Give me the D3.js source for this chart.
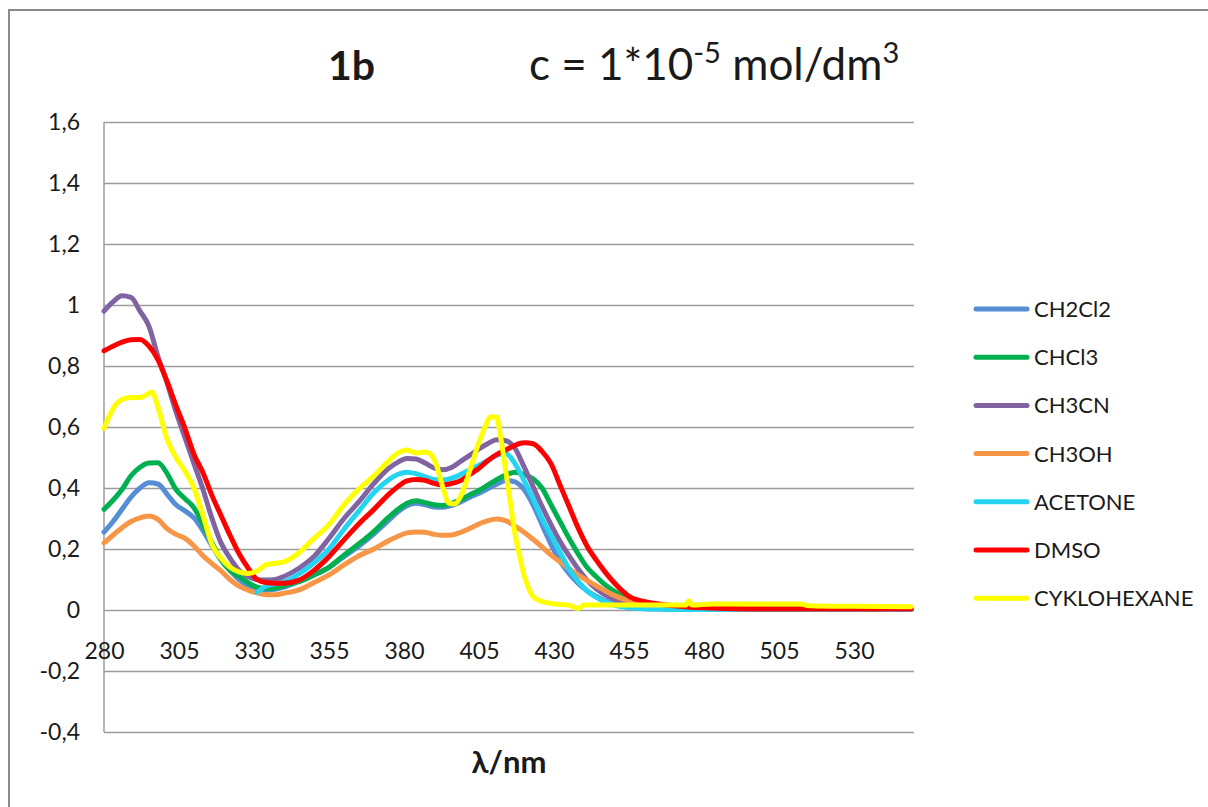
<!DOCTYPE html>
<html><head><meta charset="utf-8">
<script src="https://cdn.jsdelivr.net/npm/d3@7"></script>
<style>
html,body{margin:0;padding:0;background:#fff;overflow:hidden}
svg{display:block}
text{font-family:Lato,'Open Sans','Noto Sans',sans-serif;fill:#1a1a1a}
</style></head><body>
<svg id="chart" width="1208" height="807"></svg>
<script>
// ---- data ----
const wavelengths = [280,283,286,289,292,295,298,301,304,307,310,313,316,319,322,325,328,331,334,337,340,
  345,350,355,360,365,370,375,
  378,381,384,387,390,393,396,399,402,405,408,411,414,417,420,423,426,429,432,435,438,441,444,447,450,
  455,460,465,470,
  480,490,500,510,520,530,540,549];

const ch2cl2 = [0.255,0.29,0.33,0.37,0.4,0.417,0.413,0.38,0.345,0.325,0.302,0.26,0.21,0.165,0.13,0.1,0.08,0.068,0.065,0.068,0.075,
  0.095,0.115,0.14,0.175,0.21,0.25,0.295,
  0.322,0.342,0.35,0.345,0.338,0.337,0.343,0.355,0.37,0.383,0.398,0.413,0.425,0.42,0.395,0.345,0.28,0.215,0.16,0.12,0.088,0.063,0.045,0.03,0.02,
  0.01,0.005,0.004,0.003,
  0.003,0.003,0.003,0.003,0.003,0.003,0.003,0.003];

const chcl3 = [0.33,0.36,0.395,0.44,0.468,0.482,0.483,0.448,0.395,0.365,0.335,0.28,0.22,0.165,0.13,0.11,0.09,0.075,0.07,0.072,0.08,
  0.093,0.115,0.14,0.18,0.217,0.258,0.305,
  0.33,0.35,0.358,0.352,0.345,0.343,0.35,0.362,0.378,0.392,0.41,0.428,0.443,0.452,0.445,0.43,0.4,0.345,0.29,0.235,0.185,0.14,0.11,0.083,0.062,
  0.035,0.02,0.012,0.007,
  0.004,0.003,0.003,0.003,0.003,0.003,0.003,0.003];

const ch3cn = [0.98,1.01,1.03,1.025,0.98,0.93,0.83,0.745,0.65,0.565,0.48,0.395,0.3,0.22,0.17,0.13,0.11,0.1,0.098,0.1,0.11,
  0.137,0.175,0.235,0.3,0.355,0.415,0.465,
  0.485,0.497,0.495,0.482,0.466,0.46,0.468,0.488,0.508,0.528,0.546,0.558,0.555,0.53,0.47,0.405,0.34,0.28,0.225,0.178,0.135,0.098,0.07,0.05,0.035,
  0.018,0.009,0.006,0.004,
  0.003,0.003,0.003,0.003,0.003,0.003,0.003,0.003];

const ch3oh = [0.22,0.245,0.27,0.29,0.302,0.308,0.297,0.267,0.248,0.235,0.21,0.178,0.152,0.128,0.1,0.078,0.065,0.056,0.05,0.05,0.055,
  0.066,0.09,0.115,0.148,0.178,0.2,0.228,
  0.242,0.253,0.256,0.255,0.248,0.245,0.246,0.255,0.268,0.282,0.293,0.298,0.292,0.275,0.255,0.232,0.207,0.18,0.158,0.135,0.115,0.097,0.08,0.063,0.048,
  0.03,0.018,0.01,0.006,
  0.004,0.003,0.003,0.003,0.003,0.003,0.003,0.003];

const acetone = [null,null,null,null,null,null,null,null,null,null,null,null,null,null,null,null,null,0.058,0.078,0.086,0.092,
  0.118,0.155,0.2,0.265,0.325,0.385,0.428,
  0.445,0.452,0.447,0.437,0.428,0.426,0.432,0.445,0.46,0.475,0.49,0.508,0.512,0.48,0.425,0.365,0.3,0.245,0.19,0.135,0.095,0.063,0.042,0.027,0.016,
  0.008,0.004,0.003,0.002,
  0.002,0.002,0.002,0.002,0.002,0.002,0.002,0.002];

const dmso = [0.85,0.865,0.878,0.886,0.887,0.865,0.82,0.75,0.67,0.595,0.51,0.45,0.375,0.31,0.245,0.185,0.138,0.1,0.09,0.088,0.088,
  0.098,0.13,0.175,0.23,0.283,0.33,0.38,
  0.405,0.423,0.428,0.425,0.415,0.41,0.415,0.425,0.445,0.465,0.49,0.51,0.525,0.54,0.548,0.545,0.52,0.48,0.41,0.34,0.27,0.21,0.165,0.125,0.09,
  0.045,0.028,0.02,0.014,
  0.007,0.004,0.003,0.003,0.003,0.003,0.003,0.003];

const cykloWavelengths = [280,283,286,289,292,295,296,298,301,304,307,310,313,316,319,322,325,328,331,334,337,340,
  345,350,355,360,365,370,375,378,381,384,387,389,391,393,395,397,399,402,405,407,409,411,412,414,415.5,417,418.7,
  420,421,423,426,430,435,438,440,450,460,470,474,475,476,483,500,512,515,530,549];
const cyklohexane = [0.595,0.66,0.69,0.697,0.697,0.71,0.715,0.665,0.56,0.5,0.455,0.4,0.31,0.215,0.17,0.14,0.125,0.12,0.128,0.148,0.153,0.158,
  0.188,0.235,0.28,0.345,0.397,0.44,0.49,0.515,0.525,0.515,0.518,0.51,0.47,0.4,0.35,0.348,0.375,0.46,0.55,0.6,0.634,0.632,0.58,0.45,0.35,0.25,0.17,
  0.115,0.085,0.045,0.028,0.02,0.016,0.005,0.016,0.016,0.016,0.016,0.016,0.03,0.016,0.02,0.02,0.02,0.014,0.012,0.011];

const seriesNames = ["CH2Cl2","CHCl3","CH3CN","CH3OH","ACETONE","DMSO","CYKLOHEXANE"];
const seriesColors = ["#558ed5","#00b050","#8064a2","#f79646","#24d4f0","#ff0000","#ffff00"];
const xTicks = [280,305,330,355,380,405,430,455,480,505,530];
const yTicks = [-0.4,-0.2,0,0.2,0.4,0.6,0.8,1,1.2,1.4,1.6];

// ---- layout ----
const svg = d3.select("#chart");
const P = {left:104, right:914, top:122, bottom:732};
const x = d3.scaleLinear().domain([280,550]).range([P.left,P.right]);
const y = d3.scaleLinear().domain([-0.4,1.6]).range([P.bottom,P.top]);
const locale = d3.formatLocale({decimal:",", thousands:" ", grouping:[3], currency:["",""], minus:"-"});
const fmt = locale.format("~g");

// outer frame
svg.append("rect").attr("x",9).attr("y",10).attr("width",1240).attr("height",840)
  .attr("fill","none").attr("stroke","#8a8a8a").attr("stroke-width",2);

// y axis with gridlines
const gy = svg.append("g").attr("transform",`translate(${P.left},0)`)
  .call(d3.axisLeft(y).tickValues(yTicks).tickSize(-(P.right-P.left)).tickPadding(24).tickFormat(fmt));
gy.select(".domain").remove();
gy.selectAll(".tick line").attr("stroke","#9c9c9c").attr("stroke-width",1.5);
gy.selectAll(".tick text").attr("font-size",23).attr("fill","#1a1a1a").style("font-family","Lato,'Open Sans',sans-serif");
svg.append("line").attr("x1",P.left).attr("x2",P.left).attr("y1",P.top).attr("y2",P.bottom)
  .attr("stroke","#9c9c9c").attr("stroke-width",1.5);

// x axis labels
const gx = svg.append("g").attr("transform",`translate(0,${y(0)})`)
  .call(d3.axisBottom(x).tickValues(xTicks).tickSize(0).tickPadding(33).tickFormat(d3.format("d")));
gx.select(".domain").remove();
gx.selectAll(".tick text").attr("font-size",23).attr("fill","#1a1a1a").style("font-family","Lato,'Open Sans',sans-serif");

// series
const allValues = [ch2cl2,chcl3,ch3cn,ch3oh,acetone,dmso];
const line = d3.line().defined(d=>d[1]!==null).x(d=>x(d[0])).y(d=>y(d[1])).curve(d3.curveMonotoneX);
const plot = svg.append("g");
allValues.forEach((vals,i)=>{
  plot.append("path").datum(wavelengths.map((w,j)=>[w,vals[j]]))
    .attr("d",line).attr("fill","none").attr("stroke",seriesColors[i])
    .attr("stroke-width",5).attr("stroke-linejoin","round").attr("stroke-linecap","round");
});
plot.append("path").datum(cykloWavelengths.map((w,j)=>[w,cyklohexane[j]]))
  .attr("d",line).attr("fill","none").attr("stroke",seriesColors[6])
  .attr("stroke-width",5).attr("stroke-linejoin","round").attr("stroke-linecap","round");

// legend
const leg = svg.append("g");
seriesNames.forEach((n,i)=>{
  const yy = 309 + i*48.2;
  leg.append("line").attr("x1",976).attr("x2",1027).attr("y1",yy).attr("y2",yy)
    .attr("stroke",seriesColors[i]).attr("stroke-width",5).attr("stroke-linecap","round");
  leg.append("text").attr("x",1034).attr("y",yy).attr("dy","0.36em").attr("font-size",22).text(n);
});

// titles
svg.append("text").attr("x",328).attr("y",80).attr("font-size",41).attr("font-weight","bold").text("1b");
const t = svg.append("text").attr("x",529).attr("y",80).attr("font-size",44);
t.append("tspan").text("c = 1*10");
t.append("tspan").attr("dy",-17).attr("font-size",29).text("-5");
t.append("tspan").attr("dy",17).text(" mol/dm");
t.append("tspan").attr("dy",-17).attr("font-size",29).text("3");

svg.append("text").attr("x",(P.left+P.right)/2).attr("y",773).attr("text-anchor","middle")
  .attr("font-size",31).attr("font-weight","bold").text("λ/nm");
</script>
</body></html>
